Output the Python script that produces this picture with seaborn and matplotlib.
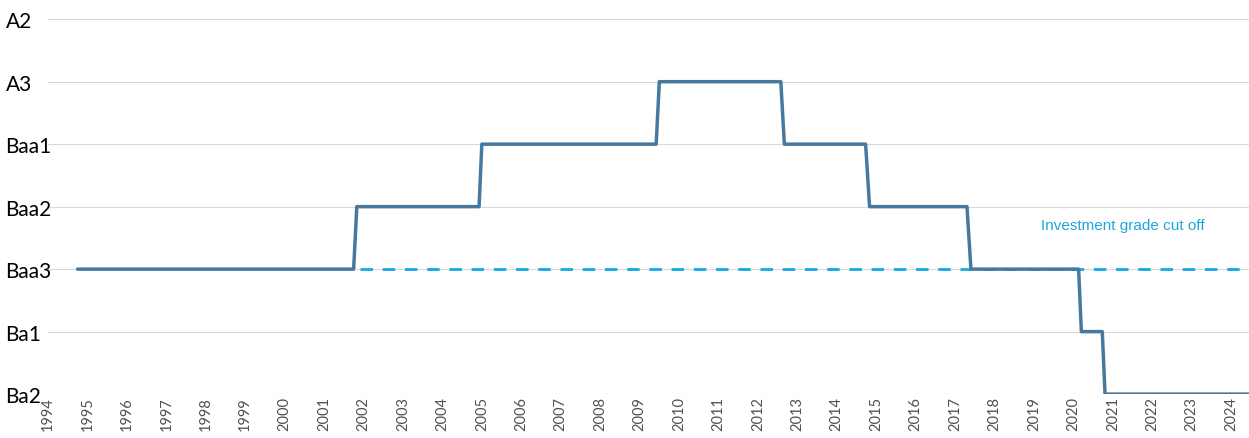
import seaborn as sns
import matplotlib.pyplot as plt
import pandas as pd

# escala de rating (de baixo para cima)
ratings = ["Ba2", "Ba1", "Baa3", "Baa2", "Baa1", "A3", "A2"]

# historico do rating (data decimal, rating)
datas = [1994.75, 2001.75, 2001.83, 2004.93, 2005.0, 2009.42, 2009.5,
         2012.58, 2012.67, 2014.73, 2014.83, 2017.3, 2017.4,
         2020.13, 2020.2, 2020.73, 2020.8, 2024.45]
notas = ["Baa3", "Baa3", "Baa2", "Baa2", "Baa1", "Baa1", "A3",
         "A3", "Baa1", "Baa1", "Baa2", "Baa2", "Baa3",
         "Baa3", "Ba1", "Ba1", "Ba2", "Ba2"]

# linha de corte do grau de investimento
corte_datas = [2001.92, 2024.45]
corte_nota = "Baa3"
anos = list(range(1994, 2025))

df = pd.DataFrame({"data": datas, "nivel": [ratings.index(n) for n in notas]})
df_corte = pd.DataFrame({"data": corte_datas,
                         "nivel": [ratings.index(corte_nota)] * len(corte_datas)})

sns.set_theme(style="white")
plt.rcParams["font.family"] = ["Lato", "DejaVu Sans"]

fig = plt.figure(figsize=(12.49, 4.39), dpi=100)
ax = fig.add_axes([0.0384, 0.1, 0.9616, 0.854])

sns.lineplot(data=df_corte, x="data", y="nivel", ax=ax, color="#13a8e6",
             linewidth=2.0, dashes=False, linestyle=(0, (4.5, 3.5)), sort=False,
             zorder=2)
sns.lineplot(data=df, x="data", y="nivel", ax=ax, color="#47799e",
             linewidth=2.5, sort=False, zorder=3)

ax.text(2021.25, 2.7, "Investment grade cut off", color="#1ea6df",
        fontsize=11, ha="center", va="center", family=["Liberation Sans"])

ax.set_xlim(1994, 2024.45)
ax.set_ylim(0, 6)
ax.set_xticks(anos)
ax.set_xticklabels([str(a) for a in anos], rotation=90, fontsize=10.5,
                   color="#505050")
ax.set_yticks(range(len(ratings)))
ax.set_yticklabels(ratings, fontsize=15, color="black", ha="left")
ax.tick_params(axis="y", pad=30.5, length=0)
ax.tick_params(axis="x", pad=1.5, length=0)

ax.grid(axis="y", color="#d9d9d9", linewidth=0.8)
ax.grid(axis="x", visible=False)
for s in ax.spines.values():
    s.set_visible(False)
ax.set_xlabel("")
ax.set_ylabel("")

fig.savefig("out.png", dpi=100)
